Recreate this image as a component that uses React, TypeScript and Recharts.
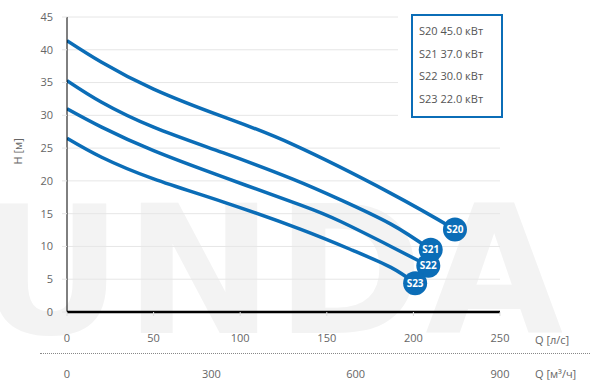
import { CartesianGrid, Legend, Line, LineChart, XAxis, YAxis } from 'recharts';

const BLUE = '#0b6db7';
const FONT = '"Open Sans", "Noto Sans", sans-serif';

const pumpNames = ['S20', 'S21', 'S22', 'S23'];
const pumpPower = ['45.0', '37.0', '30.0', '22.0'];

// Q [l/s] and H [m]
const s20Q = [0, 20, 50, 90, 130, 187, 224];
const s20H = [41.4, 38.1, 34.0, 29.8, 25.6, 18.1, 12.6];
const s21Q = [0, 20, 50, 90, 130, 158, 187, 210];
const s21H = [35.3, 32.0, 28.2, 24.3, 20.3, 17.1, 13.4, 9.5];
const s22Q = [0, 20, 50, 90, 135, 158, 187, 208.6];
const s22H = [31.0, 28.2, 24.6, 20.6, 16.3, 13.8, 10.0, 7.06];
const s23Q = [0, 20, 50, 90, 135, 165, 187, 201];
const s23H = [26.5, 23.6, 20.3, 16.8, 12.6, 9.4, 6.8, 4.4];

const hTicks = [0, 5, 10, 15, 20, 25, 30, 35, 40, 45];
const qTicks = [0, 50, 100, 150, 200, 250];
const m3Ticks = [0, 300, 600, 900];

const toPoints = (q: number[], h: number[]) => q.map((v, i) => ({ q: v, h: h[i] }));
const series = [
  toPoints(s20Q, s20H),
  toPoints(s21Q, s21H),
  toPoints(s22Q, s22H),
  toPoints(s23Q, s23H),
];
const m3Rows = m3Ticks.map((v) => ({ m3: v }));

function endBadge(name: string, last: number) {
  return (props: any) => {
    const { cx, cy, index } = props;
    if (index !== last) return <g key={`${name}-${index}`} />;
    return (
      <g key={`${name}-end`}>
        <circle cx={cx} cy={cy} r={12} fill={BLUE} />
        <text x={cx} y={cy + 3.5} textAnchor="middle" fill="#fff" fontSize={10} fontWeight={700} fontFamily={FONT}>
          {name}
        </text>
      </g>
    );
  };
}

function PowerLegend() {
  return (
    <div style={{ background: '#fff', padding: '10px 0 4px 13px' }}>
      <div style={{ border: `2px solid ${BLUE}`, width: 82, padding: '4px 0 6px 6px', fontFamily: FONT, fontSize: 11, color: '#555' }}>
        {pumpNames.map((n, i) => (
          <div key={n} style={{ height: 22.5, lineHeight: '22.5px', whiteSpace: 'nowrap' }}>
            {n} {pumpPower[i]} кВт
          </div>
        ))}
      </div>
    </div>
  );
}

const tickStyle = { fill: '#666', fontSize: 11, fontFamily: FONT };
const qLabel = { value: 'Q [л/с]', position: 'right', offset: 35, dy: 8, fill: '#666', fontSize: 11, fontFamily: FONT };
const m3Label = { value: 'Q [м³/ч]', position: 'right', offset: 35, dy: 6, fill: '#666', fontSize: 11, fontFamily: FONT };
const hLabel = { value: 'H [м]', angle: -90, position: 'insideLeft', offset: 18, fill: '#666', fontSize: 11, fontFamily: FONT };

export default function App() {
  return (
    <div style={{ position: 'relative', width: 590, height: 385, background: '#fff', overflow: 'hidden' }}>
      <style>{'body{margin:0}'}</style>
      <div
        style={{
          position: 'absolute', left: -22, top: 183, fontFamily: '"DejaVu Sans", sans-serif', fontWeight: 700,
          fontSize: 178, color: '#f3f3f3', letterSpacing: 2, lineHeight: 1, whiteSpace: 'nowrap',
        }}
      >
        UNDA
      </div>
      <div style={{ position: 'absolute', left: 40, right: 0, top: 353, borderTop: '1px dotted #888' }} />
      <LineChart
        width={590}
        height={385}
        data={m3Rows}
        margin={{ top: 17, right: 90, left: 0, bottom: 0 }}
        style={{ position: 'absolute', left: 0, top: 0 }}
      >
        <CartesianGrid horizontal vertical={false} stroke="#e6e6e6" />
        <XAxis
          xAxisId={0}
          dataKey="q"
          type="number"
          domain={[0, 250]}
          ticks={qTicks}
          allowDataOverflow
          height={40}
          axisLine={{ stroke: '#000', strokeWidth: 2.5 }}
          tickLine={{ stroke: '#ddd' }}
          tickSize={4}
          tickMargin={18}
          tick={tickStyle}
          label={qLabel}
        />
        <XAxis
          xAxisId={1}
          dataKey="m3"
          type="number"
          domain={[0, 900]}
          ticks={m3Ticks}
          allowDataOverflow
          height={33}
          axisLine={false}
          tickLine={false}
          tickMargin={12}
          tick={tickStyle}
          label={m3Label}
        />
        <YAxis
          type="number"
          domain={[0, 45]}
          ticks={hTicks}
          width={67}
          axisLine={{ stroke: '#000', strokeWidth: 1 }}
          tickLine={{ stroke: '#e6e6e6' }}
          tickSize={5}
          tickMargin={9}
          tick={tickStyle}
          label={hLabel}
        />
        <Legend
          layout="horizontal"
          verticalAlign="middle"
          align="center"
          content={() => <PowerLegend />}
          wrapperStyle={{ left: 398, top: 4, width: 110 }}
        />
        {series.map((pts, i) => (
          <Line
            key={pumpNames[i]}
            xAxisId={0}
            data={pts}
            dataKey="h"
            type="natural"
            stroke={BLUE}
            strokeWidth={3.5}
            dot={endBadge(pumpNames[i], pts.length - 1)}
            activeDot={false}
            legendType="none"
            isAnimationActive={false}
          />
        ))}
      </LineChart>
    </div>
  );
}
